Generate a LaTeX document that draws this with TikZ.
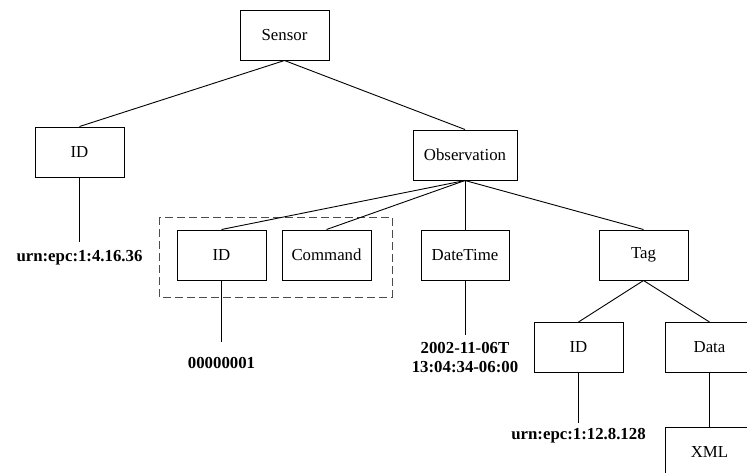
\documentclass[tikz,border=0pt]{standalone}
\usepackage{fontspec}
\setmainfont{Liberation Serif}
\begin{document}
\begin{tikzpicture}[x=1pt,y=-1pt,
  box/.style={draw, line width=1pt, minimum width=89pt, minimum height=50pt, inner sep=0pt,
              font=\fontsize{16.8}{20}\selectfont},
  val/.style={inner sep=0pt, font=\fontsize{16.8}{19}\selectfont\bfseries, align=center},
  edge/.style={line width=0.9pt},
  group/.style={draw=black!70, line width=1pt, dash pattern=on 8pt off 4pt}]
\useasboundingbox (0,0) rectangle (747,472);
\clip (0,0) rectangle (747,472);

% dashed grouping frame around the command part
\draw[group] (159,217) rectangle (392,297);

% element boxes
\node[box] (sensor) at (284.5,35) {Sensor};
\node[box] (sid) at (79.5,152) {ID};
\node[box, minimum width=104pt] (obs) at (465,155) {Observation};
\node[box] (oid) at (221.5,255) {ID};
\node[box] (cmd) at (326.5,255) {Command};
\node[box, minimum width=88pt] (dt) at (465,255) {DateTime};
\node[box] (tag) at (643.5,255) {Tag};
\node[box] (tid) at (578.5,347.5) {ID};
\node[box] (data) at (709.5,347.5) {Data};
\node[box] (xml) at (709.5,452) {XML};

% values (a two-line node sits on the baseline of its last line)
\node[val, anchor=base] (v1) at (79.5,261) {urn:epc:1:4.16.36};
\node[val, anchor=base] (v2) at (221.5,368) {00000001};
\node[val, anchor=base] (v3) at (465,372) {2002-11-06T\\13:04:34-06:00};
\node[val, anchor=base] (v4) at (578.5,439) {urn:epc:1:12.8.128};

\coordinate (e1) at (79.5,242);
\coordinate (e2) at (221.5,342);
\coordinate (e3) at (465,335);
\coordinate (e4) at (578.5,423);

% tree edges
\draw[edge] (sensor.south) -- (sid.north);
\draw[edge] (sensor.south) -- (obs.north);
\draw[edge] (obs.south) -- (oid.north);
\draw[edge] (obs.south) -- (cmd.north);
\draw[edge] (obs.south) -- (dt.north);
\draw[edge] (obs.south) -- (tag.north);
\draw[edge] (tag.south) -- (tid.north);
\draw[edge] (tag.south) -- (data.north);
\draw[edge] (data.south) -- (xml.north);

% value links
\draw[edge] (sid.south) -- (e1);
\draw[edge] (oid.south) -- (e2);
\draw[edge] (dt.south) -- (e3);
\draw[edge] (tid.south) -- (e4);
\end{tikzpicture}
\end{document}
